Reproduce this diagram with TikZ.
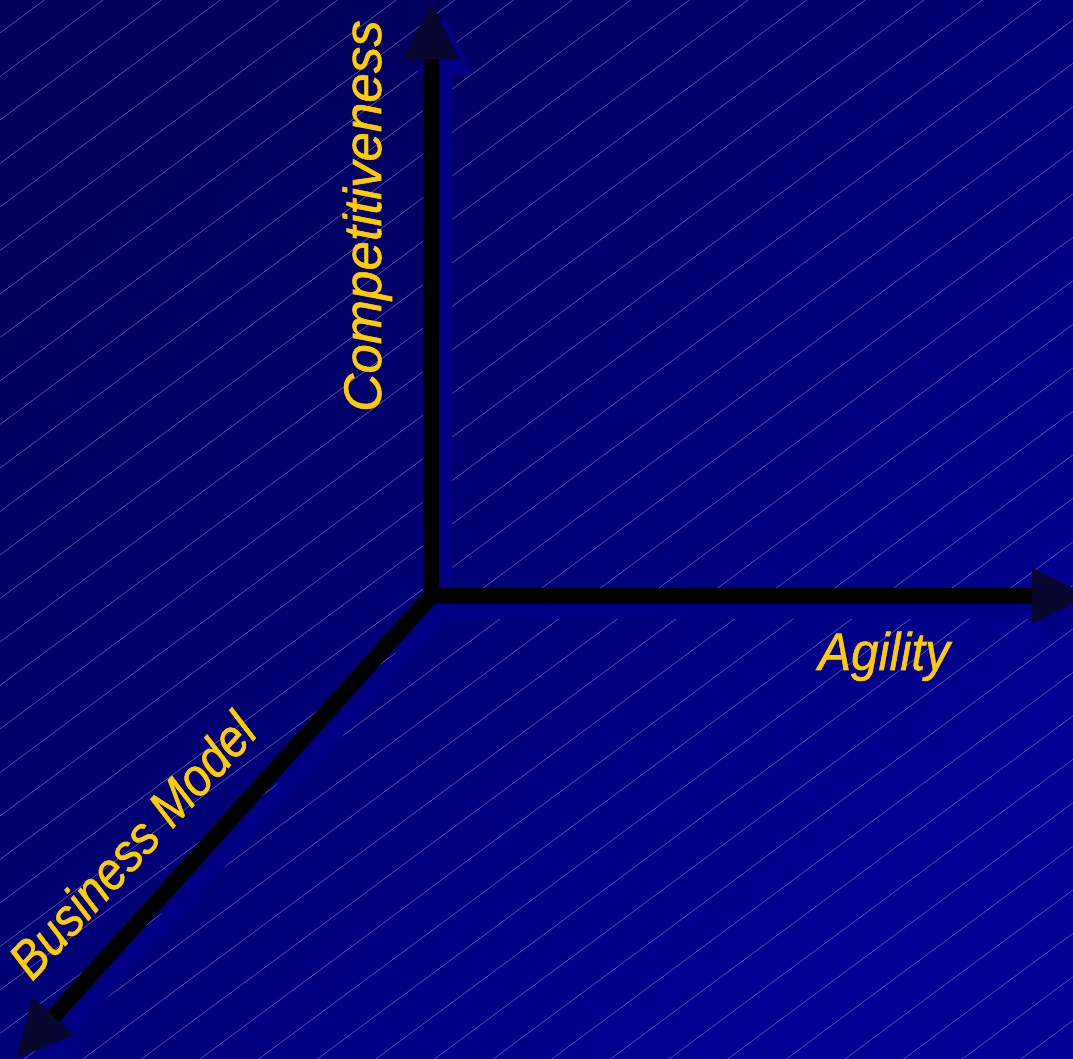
\documentclass[tikz,border=0pt]{standalone}
\usepackage{fontspec}
\setmainfont{Liberation Sans}[ItalicFeatures={FakeBold=1}]
\usetikzlibrary{calc}

\definecolor{bgdark}{RGB}{0,0,92}
\definecolor{bglight}{RGB}{0,0,148}
\definecolor{hatch}{RGB}{92,92,172}
\definecolor{headcol}{RGB}{6,6,46}
\definecolor{shadowcol}{RGB}{0,0,132}
\definecolor{labelgold}{RGB}{255,204,0}

\begin{document}
\begin{tikzpicture}[x=1pt,y=-1pt,
  shaft/.style={line width=16pt, line join=miter, line cap=butt},
  hatchline/.style={draw=hatch, line width=0.55pt},
  axislabel/.style={text=labelgold, inner sep=0pt,
    font=\fontsize{53}{60}\selectfont\itshape}
]
\useasboundingbox (0,0) rectangle (1073,1059);
\clip (0,0) rectangle (1073,1059);

% background: diagonal gradient with fine hatching
\shade[top color=bgdark, bottom color=bglight, shading angle=45]
  (0,0) rectangle (1073,1059);
\foreach \k in {0,...,42}{
  \draw[hatchline] (0,{33+43.5*\k}) -- (1073,{33+43.5*\k-796.2});
}

% axis end points
\coordinate (O) at (431,596);
\coordinate (tipC) at (431.5,3);
\coordinate (tipA) at (1088,596);
\coordinate (tipB) at (16,1058);
\coordinate (sO) at ($(O)+(13,15)$);

% base of each arrow head, the shaft ends, and their shadow copies
\foreach \t in {C,A,B}{
  \coordinate (base\t) at ($(tip\t)!56pt!(O)$);
  \coordinate (end\t) at ($(tip\t)!54pt!(O)$);
  \coordinate (left\t) at ($(base\t)!28pt!90:(tip\t)$);
  \coordinate (right\t) at ($(base\t)!28pt!-90:(tip\t)$);
  \coordinate (stip\t) at ($(tip\t)+(13,15)$);
  \coordinate (send\t) at ($(end\t)+(13,15)$);
  \coordinate (sleft\t) at ($(left\t)+(13,15)$);
  \coordinate (sright\t) at ($(right\t)+(13,15)$);
}

% drop shadow of the three axes
\draw[shaft, draw=shadowcol] (sendC) -- (sO) -- (sendB);
\draw[shaft, draw=shadowcol] (sO) -- (sendA);
\foreach \t in {C,A,B}{
  \fill[shadowcol] (stip\t) -- (sleft\t) -- (sright\t) -- cycle;
}

% the axes
\draw[shaft, draw=black] (endC) -- (O) -- (endB);
\draw[shaft, draw=black] (O) -- (endA);
\foreach \t in {C,A,B}{
  \fill[headcol] (tip\t) -- (left\t) -- (right\t) -- cycle;
}

% axis labels
\node[axislabel, rotate=90, anchor=base] (lblC) at (381,216) {Competitiveness};
\node[axislabel, anchor=base, xscale=0.93] (lblA) at (884,670) {Agility};
\node[axislabel, rotate=47.5, anchor=base, xscale=0.9] (lblB) at (146,858) {Business Model};
\end{tikzpicture}
\end{document}
